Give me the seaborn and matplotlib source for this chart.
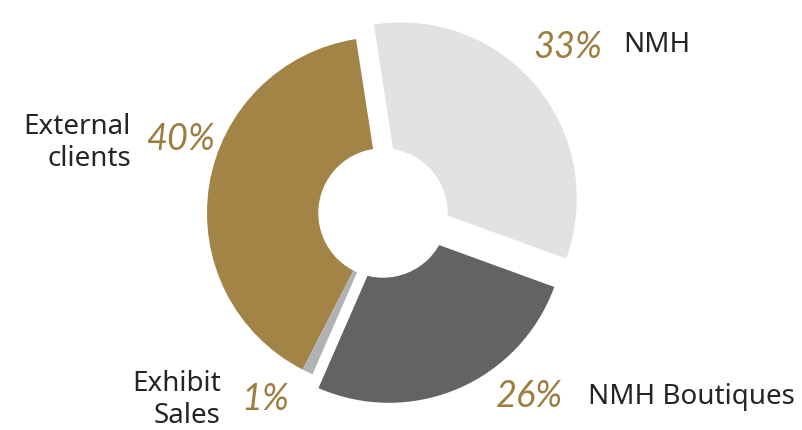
import matplotlib
matplotlib.use("Agg")
import matplotlib.pyplot as plt
import seaborn as sns

# Revenue split by channel
categories = ["NMH", "External clients", "Exhibit Sales", "NMH Boutiques"]
shares = [33, 40, 1, 26]
pct_labels = ["33%", "40%", "1%", "26%"]
name_labels = ["NMH", "External\nclients", "Exhibit\nSales", "NMH Boutiques"]

sns.set_theme(style="white")
plt.rcParams["font.family"] = ["Noto Sans", "DejaVu Sans"]

colors = ["#e1e2e4", "#a28447", "#b1b2b5", "#636365"]
gold_text = "#9c7e40"
dark_text = "#262425"

W, H = 803, 431
fig = plt.figure(figsize=(W / 100, H / 100), dpi=100)
ax = fig.add_axes([0, 0, 1, 1])

cx, cy, R = 383, 217, 176
# pie offsets are in data units (pixels here)
explode = [23, 0, 0, 15]

ax.pie(shares, colors=colors, radius=R, center=(cx, cy), startangle=-20,
       counterclock=True, explode=explode, frame=True,
       wedgeprops=dict(linewidth=0))
# Centre hole
ax.add_patch(plt.Circle((cx, cy), 64, color="white", zorder=5))
ax.set_xlim(0, W)
ax.set_ylim(0, H)
ax.set_aspect("equal")
ax.axis("off")

pct_kw = dict(color=gold_text, fontsize=26, fontstyle="italic",
              family=["Lato", "DejaVu Sans"], ha="center", va="center")
name_kw = dict(color=dark_text, fontsize=20, va="center", linespacing=1.15)

# NMH
ax.text(568, H - 48, pct_labels[0], **pct_kw)
ax.text(623, H - 45, name_labels[0], ha="left", **name_kw)
# External clients
ax.text(180, H - 140, pct_labels[1], **pct_kw)
ax.text(131, H - 143, name_labels[1], ha="right", multialignment="right", **name_kw)
# Exhibit Sales
ax.text(265, H - 400, pct_labels[2], **pct_kw)
ax.text(221, H - 400, name_labels[2], ha="right", multialignment="right", **name_kw)
# NMH Boutiques
ax.text(530, H - 397, pct_labels[3], **pct_kw)
ax.text(588, H - 397, name_labels[3], ha="left", **name_kw)

fig.savefig("out.png", dpi=100, facecolor="white")
